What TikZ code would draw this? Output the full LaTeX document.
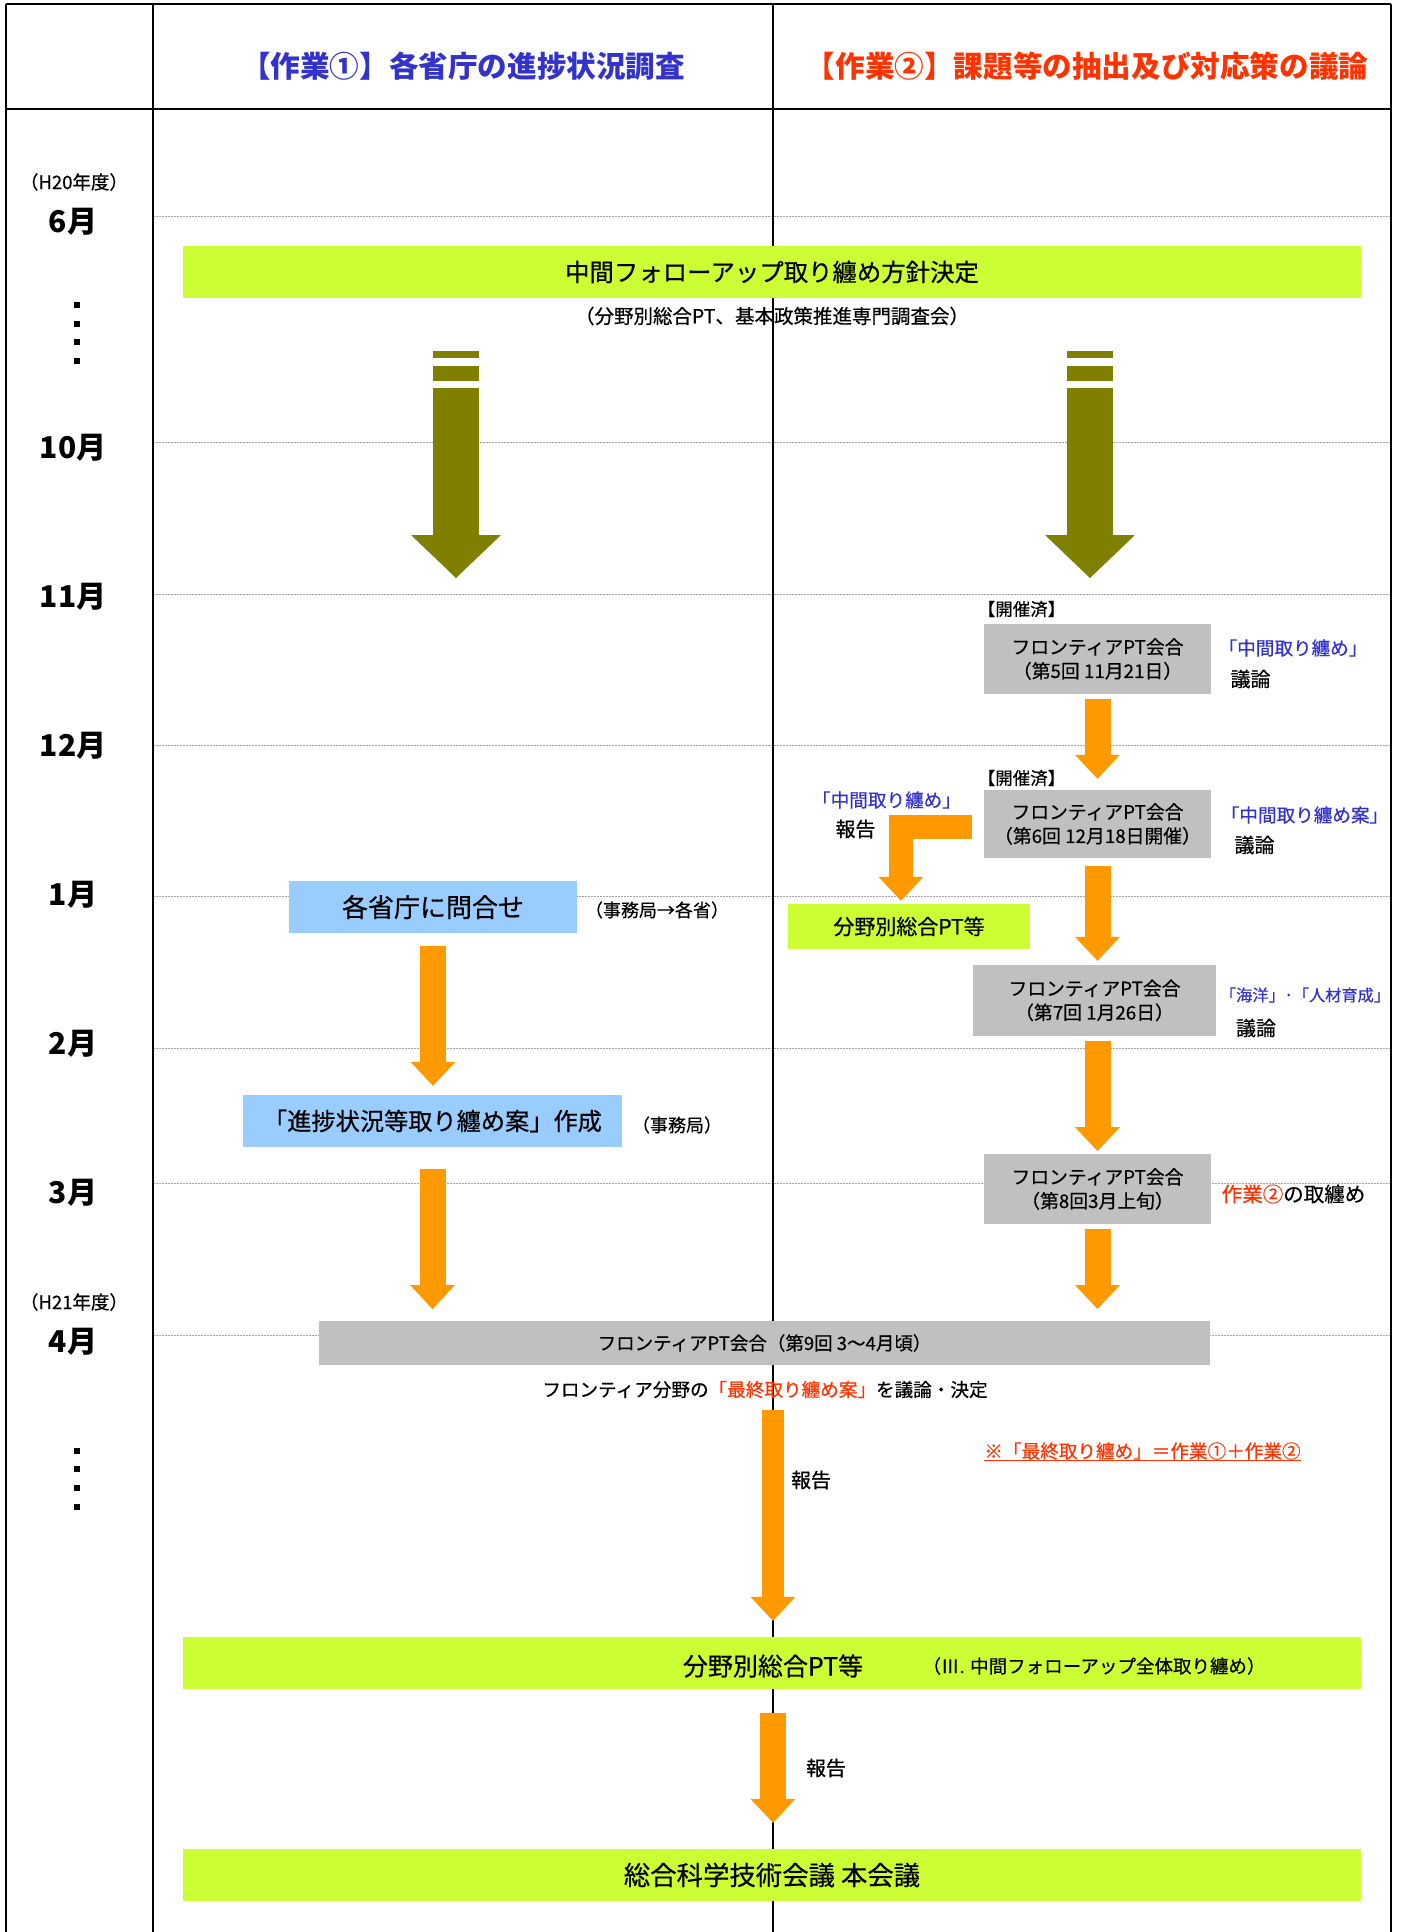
\documentclass[tikz,border=0pt]{standalone}
\usepackage{fontspec}
\setmainfont{Noto Sans CJK JP}[UprightFeatures={FakeBold=0.5}]
\usetikzlibrary{arrows.meta,calc}
\definecolor{hdrblue}{RGB}{51,51,204}
\definecolor{hdrred}{RGB}{255,51,0}
\definecolor{olivec}{RGB}{128,128,0}
\definecolor{orangec}{RGB}{255,153,0}
\definecolor{greenc}{RGB}{204,255,51}
\definecolor{lightbluec}{RGB}{153,204,255}
\definecolor{grayc}{RGB}{192,192,192}
\definecolor{gridc}{RGB}{165,165,165}
\newcommand\fsz[2]{\fontsize{#1}{#2}\selectfont}
\tikzset{
  txt/.style={inner sep=0pt, anchor=center},
  hdr/.style={txt, font=\bfseries\fsz{29.6}{36}},
  month/.style={txt, font=\bfseries\fsz{30}{36}},
  yearlbl/.style={txt, font=\fsz{18.5}{22}},
  small/.style={txt, font=\fsz{18.6}{22}},
  greenbar/.style={fill=greenc, inner sep=0pt, minimum width=1178pt, minimum height=52pt},
  graybox/.style={fill=grayc, inner sep=0pt, align=center, font=\fsz{18.8}{24}},
  bluebox/.style={fill=lightbluec, inner sep=0pt, minimum height=52pt},
  gridline/.style={draw=gridc, line width=0.9pt, dash pattern=on 1.5pt off 1.5pt},
  frameline/.style={draw=black, line width=2pt},
  orarrow/.style={draw=orangec, line width=26pt, -{Triangle[width=45pt,length=24pt,line width=0pt]}},
  olarrow/.style={draw=olivec, line width=46pt, -{Triangle[width=90pt,length=43pt,line width=0pt]}},
}
\begin{document}
\begin{tikzpicture}[x=1pt,y=-1pt]
\useasboundingbox (0,0) rectangle (1402,1932);
\fill[white] (0,0) rectangle (1402,1932);
% grid lines
\foreach \yy in {216,442,594,745,896,1048,1183,1335}
  \draw[gridline] (153,\yy) -- (1391,\yy);
% frame
\draw[frameline] (6,4.5) -- (1391,4.5);
\draw[frameline] (6,4.5) -- (6,1932);
\draw[frameline] (153,4.5) -- (153,1932);
\draw[frameline] (773,4.5) -- (773,1932);
\draw[frameline] (1391,4.5) -- (1391,1932);
\draw[draw=black, line width=2.6pt] (6,109) -- (1391,109);
% headers
\node[hdr, text=hdrblue] (h1) at (463,66) {【作業①】各省庁の進捗状況調査};
\node[hdr, text=hdrred] (h2) at (1087,66) {【作業②】課題等の抽出及び対応策の議論};
% month labels
\node[yearlbl] (y20) at (74,182) {（H20年度）};
\node[month] (m6) at (73,222) {6月};
\node[month] (m10) at (73,448) {10月};
\node[month] (m11) at (73,597) {11月};
\node[month] (m12) at (73,746) {12月};
\node[month] (m1) at (73,895) {1月};
\node[month] (m2) at (73,1044) {2月};
\node[month] (m3) at (73,1193) {3月};
\node[yearlbl] (y21) at (74,1302) {（H21年度）};
\node[month] (m4) at (73,1341.5) {4月};
\foreach \yy in {305,324,342,361,1451,1469,1488,1507}
  \fill[black] (74,\yy-3) rectangle (80,\yy+3);
% top bar
\node[greenbar, font=\fsz{24.4}{29}] (bar1) at (772,272) {中間フォローアップ取り纏め方針決定};
\node[txt, font=\fsz{19.5}{23}] (sub1) at (772,316) {（分野別総合PT、基本政策推進専門調査会）};
% olive arrows
\fill[olivec] (433,351) rectangle (479,358);
\fill[olivec] (433,366) rectangle (479,381);
\coordinate (o1s) at (456,387.5);
\coordinate (o1e) at (456,578);
\draw[olarrow] (o1s) -- (o1e);
\fill[olivec] (1067,351) rectangle (1113,358);
\fill[olivec] (1067,366) rectangle (1113,381);
\coordinate (o2s) at (1090,387.5);
\coordinate (o2e) at (1090,578);
\draw[olarrow] (o2s) -- (o2e);
% right column
\node[txt, font=\fsz{17.5}{21}] (k1) at (1021.5,609) {【開催済】};
\node[graybox, minimum width=227pt, minimum height=70pt] (g1) at (1097.5,659) {フロンティアPT会合\\（第5回 11月21日）};
\node[small, text=hdrblue] (r1a) at (1293,648) {「中間取り纏め」};
\node[small, font=\fsz{20}{24}] (r1b) at (1250.5,679) {議論};
\node[txt, font=\fsz{17.5}{21}] (k2) at (1021.5,778) {【開催済】};
\node[graybox, minimum width=227pt, minimum height=68pt] (g2) at (1097.5,824) {フロンティアPT会合\\（第6回 12月18日開催）};
\node[small, text=hdrblue] (r2a) at (1304.5,815) {「中間取り纏め案」};
\node[small, font=\fsz{20}{24}] (r2b) at (1254.5,845) {議論};
\node[small, text=hdrblue] (l2a) at (886.5,800) {「中間取り纏め」};
\node[small, font=\fsz{20}{24}] (l2b) at (855.5,829) {報告};
\node[fill=greenc, inner sep=0pt, minimum width=242pt, minimum height=45pt, font=\fsz{21}{25}] (sg) at (909,926.5) {分野別総合PT等};
\node[graybox, minimum width=243pt, minimum height=71pt] (g3) at (1094.5,1000.5) {フロンティアPT会合\\（第7回 1月26日）};
\node[small, text=hdrblue, font=\fsz{16.2}{20}] (r3a) at (1305,995) {「海洋」･「人材育成」};
\node[small, font=\fsz{20}{24}] (r3b) at (1256,1028) {議論};
\node[graybox, minimum width=227pt, minimum height=70.5pt] (g4) at (1097.5,1189) {フロンティアPT会合\\（第8回3月上旬）};
\node[txt, font=\fsz{20.5}{24}] (r4) at (1293.5,1194) {{\color{hdrred}作業②}の取纏め};
% left column
\node[bluebox, minimum width=288pt, font=\fsz{26}{30}] (b1) at (433,907) {各省庁に問合せ};
\node[small, font=\fsz{18}{22}] (b1n) at (657,910) {（事務局→各省）};
\node[bluebox, minimum width=379pt, font=\fsz{24.2}{29}] (b2) at (432.5,1121) {「進捗状況等取り纏め案」作成};
\node[small, font=\fsz{18}{22}] (b2n) at (677,1125) {（事務局）};
% bottom part
\node[fill=grayc, inner sep=0pt, minimum width=891pt, minimum height=43.5pt, font=\fsz{18.5}{22}] (bar9) at (764.5,1343) {フロンティアPT会合（第9回 3～4月頃）};
\node[small] (fin) at (765,1389.5) {フロンティア分野の{\color{hdrred}「最終取り纏め案」}を議論・決定};
\node[small, text=hdrred] (note) at (1142.5,1451) {※「最終取り纏め」＝作業①＋作業②};
\draw[hdrred, line width=1.2pt] ($(note.base west)+(0,2.5)$) -- ($(note.base east)+(0,2.5)$);
\node[greenbar] (bar2) at (772,1663) {};
\node[txt, font=\fsz{25}{30}] (bar2a) at (773,1666) {分野別総合PT等};
\node[txt, font=\fsz{18.5}{22}] (bar2b) at (1094,1666) {（Ⅲ. 中間フォローアップ全体取り纏め）};
\node[greenbar, font=\fsz{26.4}{31}] (bar3) at (772,1875) {総合科学技術会議 本会議};
\node[small, font=\fsz{20}{24}] (rep1) at (811,1480) {報告};
\node[small, font=\fsz{20}{24}] (rep2) at (826,1768) {報告};
% orange arrows
\draw[orarrow] ($(g1.south)+(0,5)$) -- ($(g2.north)+(0,-11)$);
\draw[orarrow, line width=24pt] ($(g2.west)+(-12,2.5)$) -| ($(sg.north)+(-8,-3)$);
\draw[orarrow] ($(g2.south)+(0,8)$) -- ($(g2.south |- g3.north)+(0,-4)$);
\draw[orarrow] ($(g3.south -| g4.north)+(0,5)$) -- ($(g4.north)+(0,-2.5)$);
\draw[orarrow] ($(g4.south)+(0,5)$) -- ($(g4.south |- bar9.north)+(0,-12)$);
\draw[orarrow] ($(b1.south)+(0,13)$) -- ($(b1.south |- b2.north)+(0,-9)$);
\draw[orarrow] ($(b2.south)+(0,22)$) -- ($(b2.south |- bar9.north)+(0,-12)$);
\draw[orarrow, line width=22pt] ($(bar2.north |- fin.south)+(1,12)$) -- ($(bar2.north)+(1,-16)$);
\draw[orarrow] ($(bar2.south)+(1,24)$) -- ($(bar3.north)+(1,-26)$);
\end{tikzpicture}
\end{document}
